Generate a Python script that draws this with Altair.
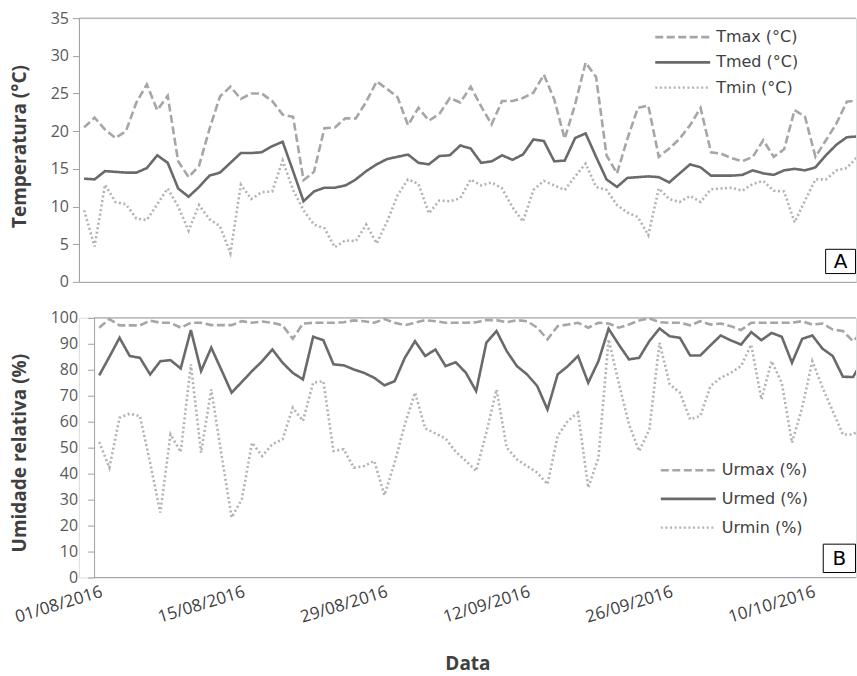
import altair as alt
import pandas as pd

# Daily dates (01/08/2016 onwards)
datas = pd.date_range("2016-08-01", periods=76, freq="D").strftime("%Y-%m-%d").tolist()
rotulos_x = ["2016-08-01", "2016-08-15", "2016-08-29", "2016-09-12", "2016-09-26", "2016-10-10"]

# Temperature (°C)
tmax = [20.5, 21.8, 20.2, 19.1, 20.0, 23.8, 26.2, 22.8, 24.7, 16.0,
        13.9, 15.4, 20.3, 24.6, 25.9, 24.3, 25.0, 25.0, 24.0, 22.2,
        21.9, 13.5, 14.6, 20.4, 20.5, 21.7, 21.7, 23.9, 26.6, 25.6,
        24.5, 20.8, 23.1, 21.4, 22.3, 24.4, 23.8, 25.9, 23.3, 20.9,
        24.0, 24.0, 24.4, 25.1, 27.5, 24.2, 19.0, 23.6, 29.1, 27.2,
        16.8, 14.4, 19.0, 23.1, 23.4, 16.6, 17.7, 19.0, 20.8, 23.1,
        17.2, 17.0, 16.4, 16.0, 16.6, 18.8, 16.6, 17.6, 22.8, 21.9,
        16.6, 18.8, 21.0, 23.9, 24.1, None]
tmed = [13.7, 13.6, 14.7, 14.6, 14.5, 14.5, 15.1, 16.8, 15.8, 12.4,
        11.3, 12.6, 14.1, 14.5, 15.8, 17.1, 17.1, 17.2, 18.0, 18.6,
        14.7, 10.7, 12.0, 12.5, 12.5, 12.8, 13.6, 14.7, 15.6, 16.3,
        16.6, 16.9, 15.8, 15.6, 16.7, 16.8, 18.1, 17.7, 15.8, 16.0,
        16.8, 16.2, 16.9, 18.9, 18.7, 16.0, 16.1, 19.1, 19.7, 16.6,
        13.6, 12.6, 13.8, 13.9, 14.0, 13.9, 13.2, 14.4, 15.6, 15.2,
        14.1, 14.1, 14.1, 14.2, 14.8, 14.4, 14.2, 14.8, 15.0, 14.8,
        15.2, 16.8, 18.2, 19.2, 19.3, None]
tmin = [9.5, 4.7, 12.9, 10.6, 10.3, 8.4, 8.2, 10.3, 12.4, 10.0,
        6.8, 10.2, 8.3, 7.4, 3.8, 12.9, 11.0, 11.9, 12.0, 16.1,
        12.2, 9.5, 7.6, 7.1, 4.6, 5.5, 5.4, 7.6, 5.1, 8.0,
        11.5, 13.6, 13.0, 9.1, 10.8, 10.7, 11.1, 13.6, 12.8, 13.2,
        12.4, 9.9, 8.0, 12.2, 13.4, 12.8, 12.2, 14.0, 15.7, 12.6,
        12.2, 10.2, 9.2, 8.6, 6.2, 12.4, 11.0, 10.6, 11.4, 10.6,
        12.3, 12.4, 12.5, 12.1, 13.0, 13.4, 12.1, 12.0, 7.9, 10.8,
        13.6, 13.6, 14.8, 15.1, 16.6, None]

# Relative humidity (%)
urmax = [96.2, 99.5, 97.1, 97.1, 97.1, 98.9, 98.1, 98.1, 96.2, 98.1,
         98.1, 97.2, 97.2, 97.2, 98.7, 98.1, 98.6, 98.1, 97.1, 91.9,
         97.8, 98.1, 98.1, 98.1, 98.3, 99.0, 98.7, 98.1, 99.5, 98.1,
         97.2, 98.1, 99.1, 98.7, 98.1, 98.1, 98.1, 98.3, 99.1, 99.1,
         98.3, 99.1, 98.7, 96.2, 91.7, 96.8, 97.4, 98.1, 96.2, 98.1,
         97.8, 96.2, 97.4, 99.0, 99.8, 98.3, 98.1, 98.1, 97.1, 98.7,
         97.4, 97.8, 96.8, 95.3, 98.1, 98.1, 98.1, 98.1, 98.1, 98.7,
         97.4, 97.8, 95.5, 94.9, 91.0, 95.0]
urmed = [77.8, 85.0, 92.3, 85.3, 84.6, 78.2, 83.3, 83.7, 80.5, 95.3,
         79.5, 88.5, 79.9, 71.2, 75.3, 79.5, 83.3, 87.8, 82.7, 78.8,
         76.3, 92.7, 91.4, 82.1, 81.7, 80.1, 78.8, 76.9, 74.0, 75.6,
         84.6, 91.0, 85.3, 87.8, 81.4, 82.9, 78.8, 71.8, 90.4, 94.9,
         87.2, 81.4, 78.2, 73.7, 64.7, 78.2, 81.4, 85.3, 75.0, 83.3,
         95.8, 89.7, 84.0, 84.6, 91.0, 95.9, 92.9, 92.3, 85.5, 85.5,
         89.4, 93.2, 91.3, 89.7, 94.5, 91.4, 94.2, 92.7, 82.7, 91.9,
         93.2, 88.1, 85.3, 77.3, 77.2, 84.0]
urmin = [52.2, 42.3, 61.5, 63.1, 62.2, 44.2, 25.0, 55.1, 48.3, 82.1,
         48.1, 72.4, 47.4, 23.1, 30.1, 51.9, 46.8, 51.3, 53.2, 65.4,
         60.3, 75.0, 75.6, 48.7, 49.4, 42.3, 42.9, 44.9, 31.7, 44.2,
         59.0, 71.2, 57.4, 55.5, 53.5, 48.4, 44.9, 41.0, 55.8, 72.4,
         50.0, 45.5, 42.9, 40.4, 35.9, 54.5, 60.3, 63.5, 34.6, 46.0,
         91.7, 74.9, 59.0, 48.7, 57.0, 90.4, 74.4, 71.2, 60.9, 62.2,
         73.7, 76.9, 78.8, 81.4, 89.7, 68.6, 83.3, 75.0, 51.9, 65.4,
         83.3, 73.1, 64.1, 55.1, 55.1, 58.0]

series_t = ["Tmax (°C)", "Tmed (°C)", "Tmin (°C)"]
series_u = ["Urmax (%)", "Urmed (%)", "Urmin (%)"]

# Line styles: dashed max, solid mean, dotted min
cores = ["#a6a6a6", "#6a6a6a", "#b2b2b2"]
tracos = [[8, 3.5], [1, 0], [2, 2.6]]
larguras = [2.6, 2.6, 2.2]

CINZA = "#a0a0a0"
FONTE = "Open Sans"
DIA_MS = 86400000
LARGURA = 778  # plot width shared by both panels


def ms(s):
    return int(pd.Timestamp(s, tz="UTC").value // 10**6)


def tabela(nomes, colunas):
    linhas = []
    for nome, valores in zip(nomes, colunas):
        for d, v in zip(datas, valores):
            if v is not None:
                linhas.append({"data": d, "serie": nome, "valor": v})
    return pd.DataFrame(linhas)


def legenda(nomes, x0, y0, passo):
    camadas = []
    for k, nome in enumerate(nomes):
        y = y0 + passo * k
        df = pd.DataFrame({"serie": [nome]})
        camadas.append(
            alt.Chart(df).mark_rule(color=cores[k], strokeDash=tracos[k], strokeWidth=larguras[k])
            .encode(x=alt.value(x0), x2=alt.value(x0 + 55), y=alt.value(y))
        )
        camadas.append(
            alt.Chart(df).mark_text(align="left", baseline="middle", font="DejaVu Sans", fontSize=16,
                                    color="#404040")
            .encode(x=alt.value(x0 + 61), y=alt.value(y), text="serie:N")
        )
    return camadas


def painel_letra(letra, x1, x2, y1, y2):
    df = pd.DataFrame({"painel": [letra]})
    caixa = alt.Chart(df).mark_rect(fill="white", stroke="#000000", strokeWidth=1).encode(
        x=alt.value(x1), x2=alt.value(x2), y=alt.value(y1), y2=alt.value(y2))
    texto = alt.Chart(df).mark_text(font="DejaVu Sans", fontSize=20, color="#000000", baseline="middle").encode(
        x=alt.value((x1 + x2) / 2), y=alt.value((y1 + y2) / 2 + 1), text="painel:N")
    return [caixa, texto]


def linhas(df, nomes, escala_x, eixo_x, escala_y, eixo_y):
    return alt.Chart(df).mark_line(clip=True).encode(
        x=alt.X("data:T", scale=escala_x, axis=eixo_x),
        y=alt.Y("valor:Q", scale=escala_y, axis=eixo_y),
        color=alt.Color("serie:N", scale=alt.Scale(domain=nomes, range=cores), legend=None),
        strokeDash=alt.StrokeDash("serie:N", scale=alt.Scale(domain=nomes, range=tracos), legend=None),
        strokeWidth=alt.StrokeWidth("serie:N", scale=alt.Scale(domain=nomes, range=larguras), legend=None),
    )


def borda(y_px, x_ini):
    # horizontal frame line across the plot, in pixel units of the panel
    df = pd.DataFrame({"borda": [0]})
    return alt.Chart(df).mark_rule(color=CINZA, strokeWidth=1).encode(
        y=alt.value(y_px), x=alt.value(x_ini), x2=alt.value(LARGURA))


# ---- Panel A: temperature ----
H_T, PASSO_T = 264, 10.46
inicio_t = ms("2016-08-01") - 0.5 * DIA_MS
escala_xt = alt.Scale(type="utc", domain=[inicio_t, inicio_t + LARGURA / PASSO_T * DIA_MS])
eixo_xt = alt.Axis(labels=False, ticks=False, title=None, domainColor=CINZA, grid=False)
escala_yt = alt.Scale(domain=[0, 35], nice=False)
eixo_yt = alt.Axis(values=list(range(0, 36, 5)), tickCount=8, tickSize=6.5, tickColor=CINZA,
                   domainColor=CINZA, labelFont=FONTE, labelFontSize=16, labelColor="#595959",
                   labelPadding=4, grid=False, labelOverlap=False,
                   title="Temperatura (°C)", titleFont=FONTE, titleFontSize=19, titleFontWeight="bold",
                   titleColor="#404040", titleX=-59, titleY=128, titleAlign="center",
                   titleBaseline="middle")

df_t = tabela(series_t, [tmax, tmed, tmin])
painel_t = alt.layer(
    linhas(df_t, series_t, escala_xt, eixo_xt, escala_yt, eixo_yt),
    borda(0, 0),
    *legenda(series_t, 577, 19, 25.3),
    *painel_letra("A", 747.6, 777.5, 231.4, 255.7),
).properties(width=LARGURA, height=H_T)

# ---- Panel B: relative humidity (its y axis sits further right) ----
H_U, PASSO_U, RECUO_U = 260, 10.2, 15.2
inicio_u = ms("2016-08-01") - (RECUO_U / PASSO_U + 0.5) * DIA_MS
escala_xu = alt.Scale(type="utc", domain=[inicio_u, inicio_u + LARGURA / PASSO_U * DIA_MS])
eixo_xu = alt.Axis(values=[ms(d) for d in rotulos_x], labelExpr="utcFormat(datum.value, '%d/%m/%Y')",
                   labelAngle=343, labelAlign="right", labelBaseline="top", labelFont=FONTE,
                   labelFontSize=17, labelColor="#404040", labelPadding=6, ticks=False,
                   domain=False, grid=False, labelOverlap=False,
                   title="Data", titleFont=FONTE, titleFontSize=19, titleFontWeight="bold",
                   titleColor="#404040", titleY=86, titleBaseline="middle")
escala_yu = alt.Scale(domain=[0, 100], nice=False)
eixo_yu = alt.Axis(values=list(range(0, 101, 10)), tickCount=11, tickSize=6.5, tickColor=CINZA,
                   domainColor=CINZA, labelFont=FONTE, labelFontSize=16, labelColor="#595959",
                   labelPadding=10, grid=False, labelOverlap=False, offset=-RECUO_U,
                   title="Umidade relativa (%)", titleFont=FONTE, titleFontSize=19, titleFontWeight="bold",
                   titleColor="#404040", titleX=-74.3, titleY=135, titleAlign="center",
                   titleBaseline="middle")

df_u = tabela(series_u, [urmax, urmed, urmin])
painel_u = alt.layer(
    linhas(df_u, series_u, escala_xu, eixo_xu, escala_yu, eixo_yu),
    borda(0, RECUO_U),
    borda(H_U, RECUO_U),
    *legenda(series_u, 582.6, 152.6, 28.7),
    *painel_letra("B", 745.2, 777.5, 226.6, 255),
).properties(width=LARGURA, height=H_U)

chart = alt.vconcat(painel_t, painel_u, spacing=18).properties(
    padding={"left": 10, "top": 8.8, "right": 0, "bottom": 3}
).configure_view(stroke=None).configure(background="white")

chart.save("out.html", embed_options={"renderer": "svg", "actions": False})
